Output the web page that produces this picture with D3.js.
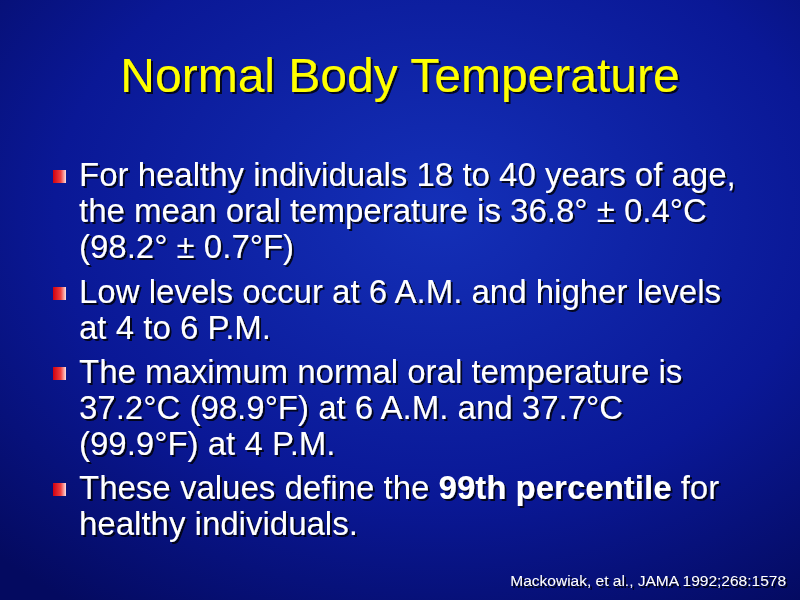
<!DOCTYPE html>
<html><head><meta charset="utf-8">
<script src="https://cdn.jsdelivr.net/npm/d3@7"></script>
<style>body{margin:0;background:#000}</style>
</head><body><div id="slide"></div>
<script>
const W = 800, H = 600;
const TITLE = "Normal Body Temperature";
// each bullet: list of lines, each line is list of [text, bold]
const BULLETS = [
  [[["For healthy individuals 18 to 40 years of age,", 0]],
   [["the mean oral temperature is 36.8° ± 0.4°C", 0]],
   [["(98.2° ± 0.7°F)", 0]]],
  [[["Low levels occur at 6 A.M. and higher levels", 0]],
   [["at 4 to 6 P.M.", 0]]],
  [[["The maximum normal oral temperature is", 0]],
   [["37.2°C (98.9°F) at 6 A.M. and 37.7°C", 0]],
   [["(99.9°F) at 4 P.M.", 0]]],
  [[["These values define the ", 0], ["99th percentile", 1], [" for", 0]],
   [["healthy individuals.", 0]]]
];
const BULLET_Y = [186, 303, 383, 499];
const FOOTNOTE = "Mackowiak, et al., JAMA 1992;268:1578";

const svg = d3.select("#slide").append("svg").attr("width", W).attr("height", H);
const defs = svg.append("defs");

const bg = defs.append("radialGradient").attr("id", "bg")
  .attr("cx", "0.55").attr("cy", "0.35").attr("r", "0.8");
bg.append("stop").attr("offset", "0").attr("stop-color", "#1430b8");
bg.append("stop").attr("offset", "0.6").attr("stop-color", "#0a1896");
bg.append("stop").attr("offset", "1").attr("stop-color", "#040a60");

const bul = defs.append("linearGradient").attr("id", "bul");
bul.append("stop").attr("offset", "0").attr("stop-color", "#d00010");
bul.append("stop").attr("offset", "0.6").attr("stop-color", "#f04040");
bul.append("stop").attr("offset", "1").attr("stop-color", "#ffe0e0");

const sh = defs.append("filter").attr("id", "sh");
sh.append("feDropShadow").attr("dx", 2).attr("dy", 2).attr("stdDeviation", 0.6)
  .attr("flood-color", "#000").attr("flood-opacity", 0.8);

svg.append("rect").attr("width", W).attr("height", H).attr("fill", "url(#bg)");

svg.append("text").attr("x", 400).attr("y", 92).attr("text-anchor", "middle")
  .attr("font-family", "Liberation Sans, Arial").attr("font-size", 48)
  .attr("fill", "#ffff00").attr("filter", "url(#sh)").text(TITLE);

const y = d3.scaleLinear().domain([0, 1]).range([0, 36]);

BULLETS.forEach((lines, i) => {
  svg.append("rect").attr("x", 53).attr("y", BULLET_Y[i] - 16)
    .attr("width", 13).attr("height", 13).attr("fill", "url(#bul)");
  lines.forEach((parts, j) => {
    const t = svg.append("text").attr("x", 79).attr("y", BULLET_Y[i] + y(j))
      .attr("font-family", "Liberation Sans, Arial").attr("font-size", 33)
      .attr("fill", "#fff").attr("filter", "url(#sh)");
    parts.forEach(p => t.append("tspan").attr("font-weight", p[1] ? "bold" : "normal")
      .attr("xml:space", "preserve").style("white-space", "pre").text(p[0]));
  });
});

svg.append("text").attr("x", 786).attr("y", 586).attr("text-anchor", "end")
  .attr("font-family", "Liberation Sans, Arial").attr("font-size", 15.5)
  .attr("fill", "#fff").attr("filter", "url(#sh)").text(FOOTNOTE);
</script></body></html>
